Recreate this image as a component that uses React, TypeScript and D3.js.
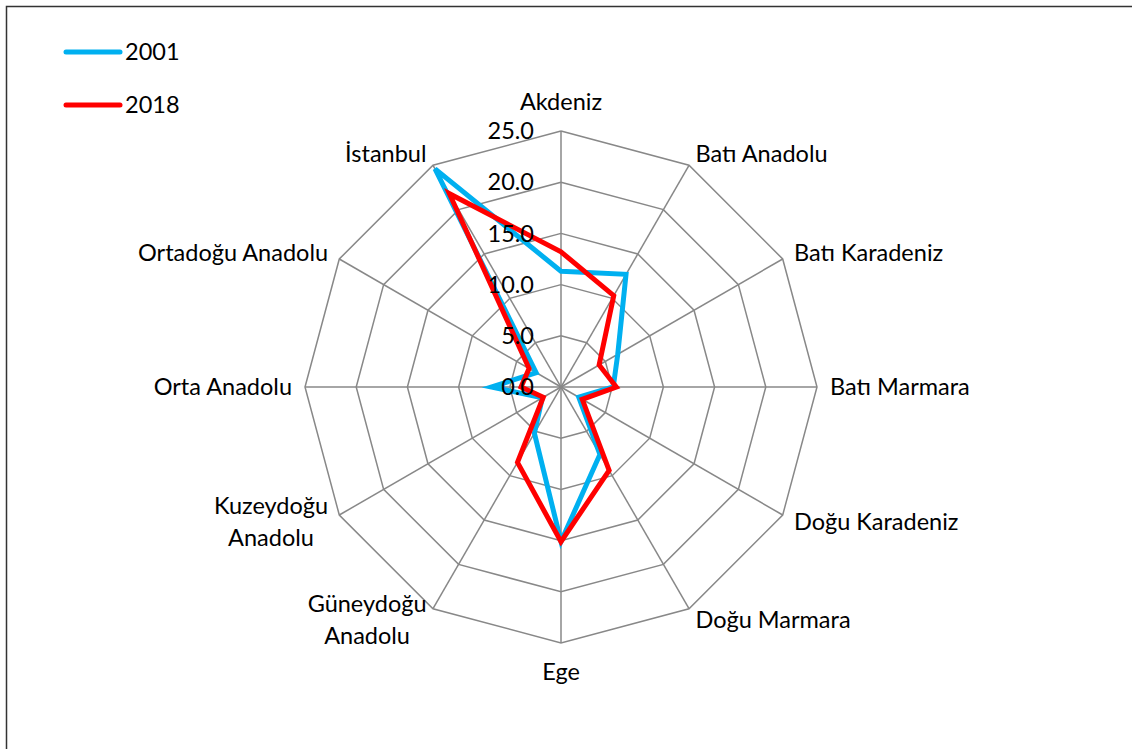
import React, { useRef, useEffect } from 'react';
import * as d3 from 'd3';

// regions clockwise from top
const regions = [
  'Akdeniz', 'Batı Anadolu', 'Batı Karadeniz', 'Batı Marmara', 'Doğu Karadeniz', 'Doğu Marmara',
  'Ege', 'Güneydoğu Anadolu', 'Kuzeydoğu Anadolu', 'Orta Anadolu', 'Ortadoğu Anadolu', 'İstanbul',
];
const wrapped = ['Güneydoğu Anadolu', 'Kuzeydoğu Anadolu'];

const values2001 = [11.3, 12.7, 6.4, 5.1, 2.0, 7.6, 15.1, 5.2, 2.1, 6.8, 2.8, 24.6];
const values2018 = [13.2, 10.3, 4.3, 5.4, 2.4, 9.4, 15.1, 8.5, 2.0, 3.9, 3.6, 21.8];
const ticks = [0, 5, 10, 15, 20, 25];

const seriesNames = ['2001', '2018'];
const seriesColors = ['#00B0F0', '#FF0000'];

const FONT = 'Lato, "Open Sans", sans-serif';
const FS = '23.5px';

const App: React.FC = () => {
  const ref = useRef<SVGSVGElement | null>(null);

  useEffect(() => {
    if (!ref.current) return;
    const width = 1132;
    const height = 749;
    const cx = 561;
    const cy = 387;
    const outer = 256;

    const svg = d3.select(ref.current).attr('width', width).attr('height', height);
    svg.selectAll('*').remove();

    // chart frame (only top/left edges fall inside the picture)
    svg.append('rect')
      .attr('x', 6.5).attr('y', 6.5)
      .attr('width', 1200).attr('height', 900)
      .attr('fill', 'white')
      .attr('stroke', '#333').attr('stroke-width', 1.5);

    const r = d3.scaleLinear().domain([0, 25]).range([0, outer]);
    const angle = d3.scaleLinear().domain([0, regions.length]).range([0, 2 * Math.PI]);
    const pt = (i: number, v: number): [number, number] => [
      cx + r(v) * Math.sin(angle(i)),
      cy - r(v) * Math.cos(angle(i)),
    ];

    const g = svg.append('g');

    // rings
    ticks.slice(1).forEach((t) => {
      const pts = regions.map((_, i) => pt(i, t));
      g.append('path')
        .attr('d', d3.line()(pts.concat([pts[0]])) || '')
        .attr('fill', 'none')
        .attr('stroke', '#888')
        .attr('stroke-width', 1.5);
    });

    // spokes
    regions.forEach((_, i) => {
      const [x, y] = pt(i, 25);
      g.append('line')
        .attr('x1', cx).attr('y1', cy)
        .attr('x2', x).attr('y2', y)
        .attr('stroke', '#888')
        .attr('stroke-width', 1.5);
    });

    // series
    const line = d3.lineRadial<number>()
      .angle((_, i) => angle(i))
      .radius((d) => r(d))
      .curve(d3.curveLinearClosed);
    [values2001, values2018].forEach((vals, k) => {
      g.append('path')
        .attr('transform', `translate(${cx},${cy})`)
        .attr('d', line(vals) || '')
        .attr('fill', 'none')
        .attr('stroke', seriesColors[k])
        .attr('stroke-width', 5)
        .attr('stroke-linejoin', 'miter');
    });

    // tick labels
    g.selectAll('text.tick')
      .data(ticks)
      .enter()
      .append('text')
      .attr('class', 'tick')
      .attr('x', cx - 27)
      .attr('y', (d) => cy - r(d))
      .attr('dy', '0.35em')
      .attr('text-anchor', 'end')
      .style('font-family', FONT)
      .style('font-size', FS)
      .attr('fill', '#000')
      .text((d) => d.toFixed(1));

    // category labels
    regions.forEach((name, i) => {
      const a = angle(i);
      const s = Math.sin(a);
      const c = Math.cos(a);
      const rr = outer + 13;
      const x = cx + rr * s;
      let y = cy - rr * c;
      if (Math.abs(s) < 0.01) y += c > 0 ? -16 : 16;
      const lines = wrapped.includes(name) ? name.split(' ') : [name];
      const t = g.append('text')
        .style('font-family', FONT)
        .style('font-size', FS)
        .attr('fill', '#000');
      if (lines.length === 1) {
        t.attr('x', x).attr('y', y).attr('dy', '0.35em')
          .attr('text-anchor', Math.abs(s) < 0.01 ? 'middle' : s > 0 ? 'start' : 'end')
          .text(name);
      } else {
        const lh = 32;
        lines.forEach((l, j) => {
          t.append('tspan')
            .attr('x', 0)
            .attr('y', y + (j - (lines.length - 1) / 2) * lh)
            .attr('dy', '0.35em')
            .attr('text-anchor', 'middle')
            .text(l);
        });
        const w = (t.node() as SVGTextElement).getBBox().width;
        const shift = s > 0 ? x + w / 2 : x - w / 2;
        t.selectAll('tspan').attr('x', shift);
      }
    });

    // legend
    const legend = svg.append('g');
    seriesNames.forEach((name, k) => {
      const ly = 52 + k * 53;
      legend.append('line')
        .attr('x1', 66).attr('x2', 120)
        .attr('y1', ly).attr('y2', ly)
        .attr('stroke', seriesColors[k])
        .attr('stroke-width', 5)
        .attr('stroke-linecap', 'round');
      legend.append('text')
        .attr('x', 125).attr('y', ly)
        .attr('dy', '0.35em')
        .style('font-family', FONT)
        .style('font-size', FS)
        .attr('fill', '#000')
        .text(name);
    });
  }, []);

  return (
    <div style={{ position: 'absolute', left: 0, top: 0 }}>
      <svg ref={ref} style={{ display: 'block' }} />
    </div>
  );
};

export default App;
